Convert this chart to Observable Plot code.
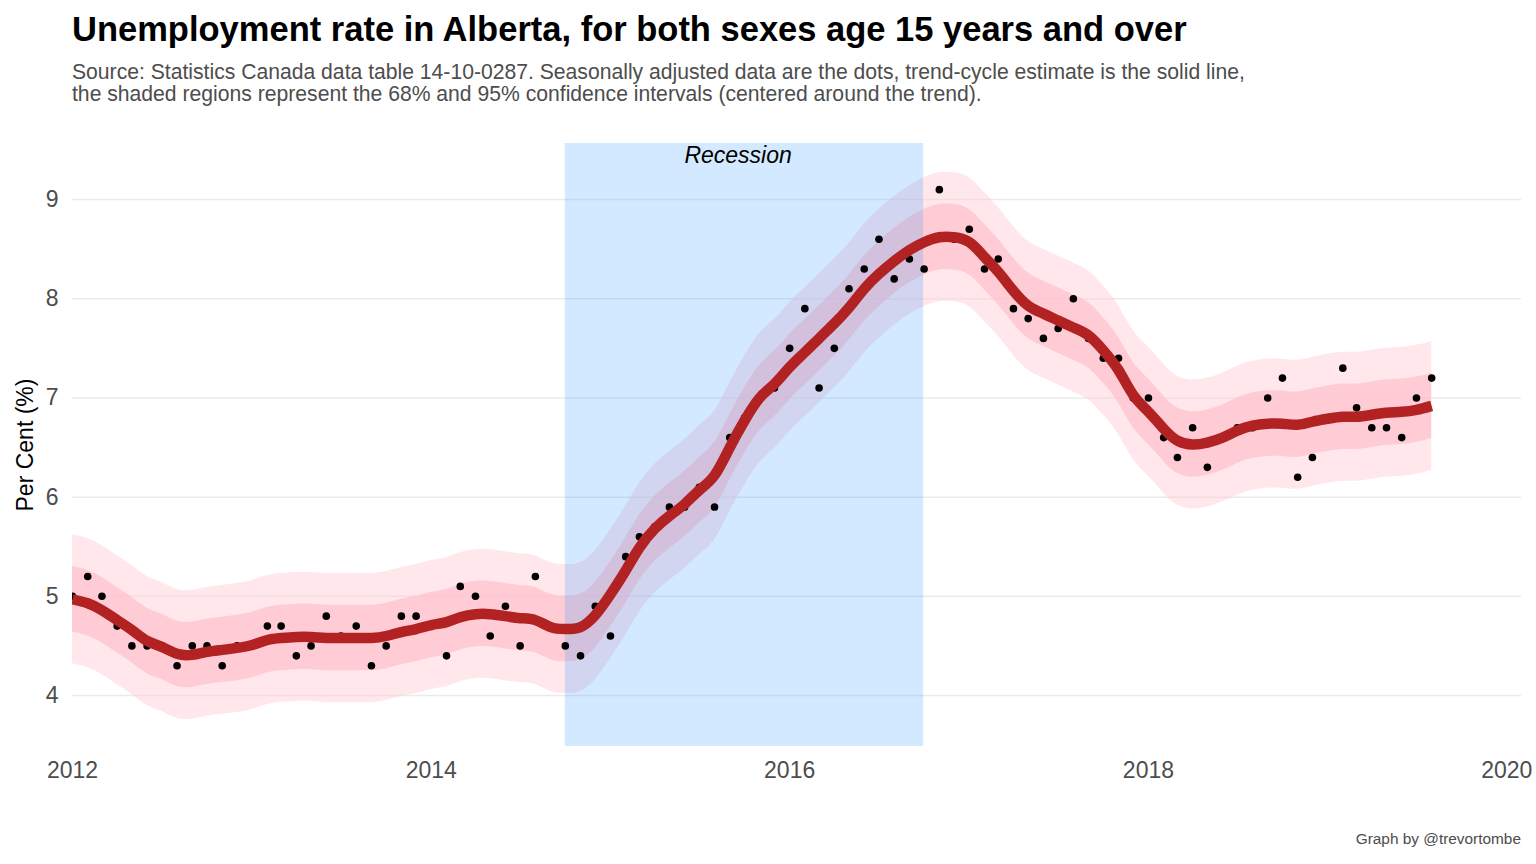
<!DOCTYPE html>
<html><head><meta charset="utf-8">
<script src="https://cdn.jsdelivr.net/npm/d3@7"></script>
<script src="https://cdn.jsdelivr.net/npm/@observablehq/plot@0.6"></script>
<style>
body{margin:0;background:#fff;font-family:"Liberation Sans",Arial,sans-serif;}
#wrap{position:relative;width:1536px;height:864px;overflow:hidden;}
#title{position:absolute;left:72px;top:12px;font-size:34.5px;font-weight:bold;line-height:34.5px;color:#000;white-space:nowrap;}
#subtitle{position:absolute;left:72px;top:60.5px;font-size:21.15px;line-height:22.5px;color:#4d4d4d;white-space:nowrap;}
#chart{position:absolute;left:0;top:110px;}
#caption{position:absolute;right:15px;top:831px;font-size:15.4px;line-height:15.4px;color:#4d4d4d;white-space:nowrap;}
</style></head><body>
<div id="wrap">
<div id="title">Unemployment rate in Alberta, for both sexes age 15 years and over</div>
<div id="subtitle">Source: Statistics Canada data table 14-10-0287. Seasonally adjusted data are the dots, trend-cycle estimate is the solid line,<br>the shaded regions represent the 68% and 95% confidence intervals (centered around the trend).</div>
<div id="chart"></div>
<div id="caption">Graph by @trevortombe</div>
</div>
<script>
// Monthly data, January 2012 onward
const seasonallyAdjusted = [
  5.0, 5.2, 5.0, 4.7, 4.5, 4.5, 4.5, 4.3, 4.5, 4.5, 4.3, 4.5,
  4.5, 4.7, 4.7, 4.4, 4.5, 4.8, 4.6, 4.7, 4.3, 4.5, 4.8, 4.8,
  4.7, 4.4, 5.1, 5.0, 4.6, 4.9, 4.5, 5.2, 4.7, 4.5, 4.4, 4.9,
  4.6, 5.4, 5.6, 5.7, 5.9, 5.9, 6.1, 5.9, 6.6, 6.8, 7.0, 7.1,
  7.5, 7.9, 7.1, 7.5, 8.1, 8.3, 8.6, 8.2, 8.4, 8.3, 9.1, 8.6,
  8.7, 8.3, 8.4, 7.9, 7.8, 7.6, 7.7, 8.0, 7.6, 7.4, 7.4, 7.0,
  7.0, 6.6, 6.4, 6.7, 6.3, 6.6, 6.7, 6.7, 7.0, 7.2, 6.2, 6.4,
  6.8, 7.3, 6.9, 6.7, 6.7, 6.6, 7.0, 7.2
];
const trendCycle = [
  4.97, 4.93, 4.86, 4.76, 4.66, 4.55, 4.49, 4.42, 4.41, 4.44, 4.46, 4.48,
  4.51, 4.56, 4.58, 4.59, 4.59, 4.58, 4.58, 4.58, 4.58, 4.60, 4.64, 4.67,
  4.71, 4.74, 4.79, 4.82, 4.82, 4.80, 4.78, 4.76, 4.69, 4.67, 4.69, 4.81,
  5.02, 5.26, 5.49, 5.68, 5.81, 5.93, 6.07, 6.22, 6.50, 6.77, 7.00, 7.14,
  7.31, 7.46, 7.60, 7.75, 7.91, 8.10, 8.25, 8.38, 8.49, 8.57, 8.62, 8.62,
  8.57, 8.42, 8.27, 8.08, 7.93, 7.85, 7.78, 7.71, 7.63, 7.48, 7.28, 7.03,
  6.86, 6.69, 6.57, 6.53, 6.55, 6.60, 6.67, 6.72, 6.74, 6.74, 6.73, 6.76,
  6.79, 6.81, 6.81, 6.83, 6.85, 6.86, 6.88, 6.92
];
const ci68 = 0.33;   // half-width of 68% interval (percentage points)
const ci95 = 0.65;   // half-width of 95% interval
const yTicks = [4, 5, 6, 7, 8, 9];
const xTickYears = [2012, 2014, 2016, 2018, 2020];
const recession = [{start: "2014-10-01", end: "2016-09-30", label: "Recession", labelAt: "2015-09-18"}];

const months = d3.utcMonth.range(new Date(Date.UTC(2012, 0, 1)), new Date(Date.UTC(2012, seasonallyAdjusted.length, 1)));
const data = months.map((date, i) => ({date, value: seasonallyAdjusted[i], trend: trendCycle[i]}));

const font = '"Liberation Sans", Arial, sans-serif';
const chart = Plot.plot({
  width: 1536, height: 710,
  marginTop: 33, marginBottom: 74, marginLeft: 72, marginRight: 15,
  style: {fontFamily: font, fontSize: "23px", color: "#4d4d4d", background: "transparent"},
  x: {type: "utc", domain: [new Date(Date.UTC(2012, 0, 1)), new Date(Date.UTC(2020, 0, 31))]},
  y: {domain: [3.486, 9.565]},
  marks: [
    Plot.gridY(yTicks, {stroke: "#ebebeb", strokeOpacity: 1, strokeWidth: 1.5}),
    Plot.areaY(data, {x: "date", y1: d => d.trend - ci95, y2: d => d.trend + ci95, fill: "#FFCAD4", fillOpacity: 0.45, curve: "natural"}),
    Plot.areaY(data, {x: "date", y1: d => d.trend - ci68, y2: d => d.trend + ci68, fill: "#FFC0CC", fillOpacity: 0.7, curve: "natural"}),
    Plot.rect(recession, {x1: d => new Date(d.start), x2: d => new Date(d.end), fill: "#1E90FF", fillOpacity: 0.2}),
    Plot.dot(data, {x: "date", y: "value", r: 3.8, fill: "black", stroke: "none", clip: true}),
    Plot.line(data, {x: "date", y: "trend", stroke: "#B22222", strokeWidth: 10.5, curve: "natural", strokeLinecap: "butt", strokeLinejoin: "round", clip: true}),
    Plot.text(recession, {x: d => new Date(d.labelAt), frameAnchor: "top", lineAnchor: "middle", dy: 12, text: "label", fontStyle: "italic", fontSize: 23, fill: "black"}),
    Plot.axisX({ticks: xTickYears.map(y => new Date(Date.UTC(y, 0, 1))), tickFormat: "%Y", tickSize: 0, tickPadding: 15.5, label: null, fontSize: 23}),
    Plot.axisY({ticks: yTicks, tickFormat: d => String(d), tickSize: 0, tickPadding: 14, label: null, fontSize: 23}),
    Plot.text(["Per Cent (%)"], {frameAnchor: "left", textAnchor: "middle", dx: -47, rotate: -90, fontSize: 23, fill: "black"})
  ]
});
document.getElementById("chart").appendChild(chart);
</script>
</body></html>
